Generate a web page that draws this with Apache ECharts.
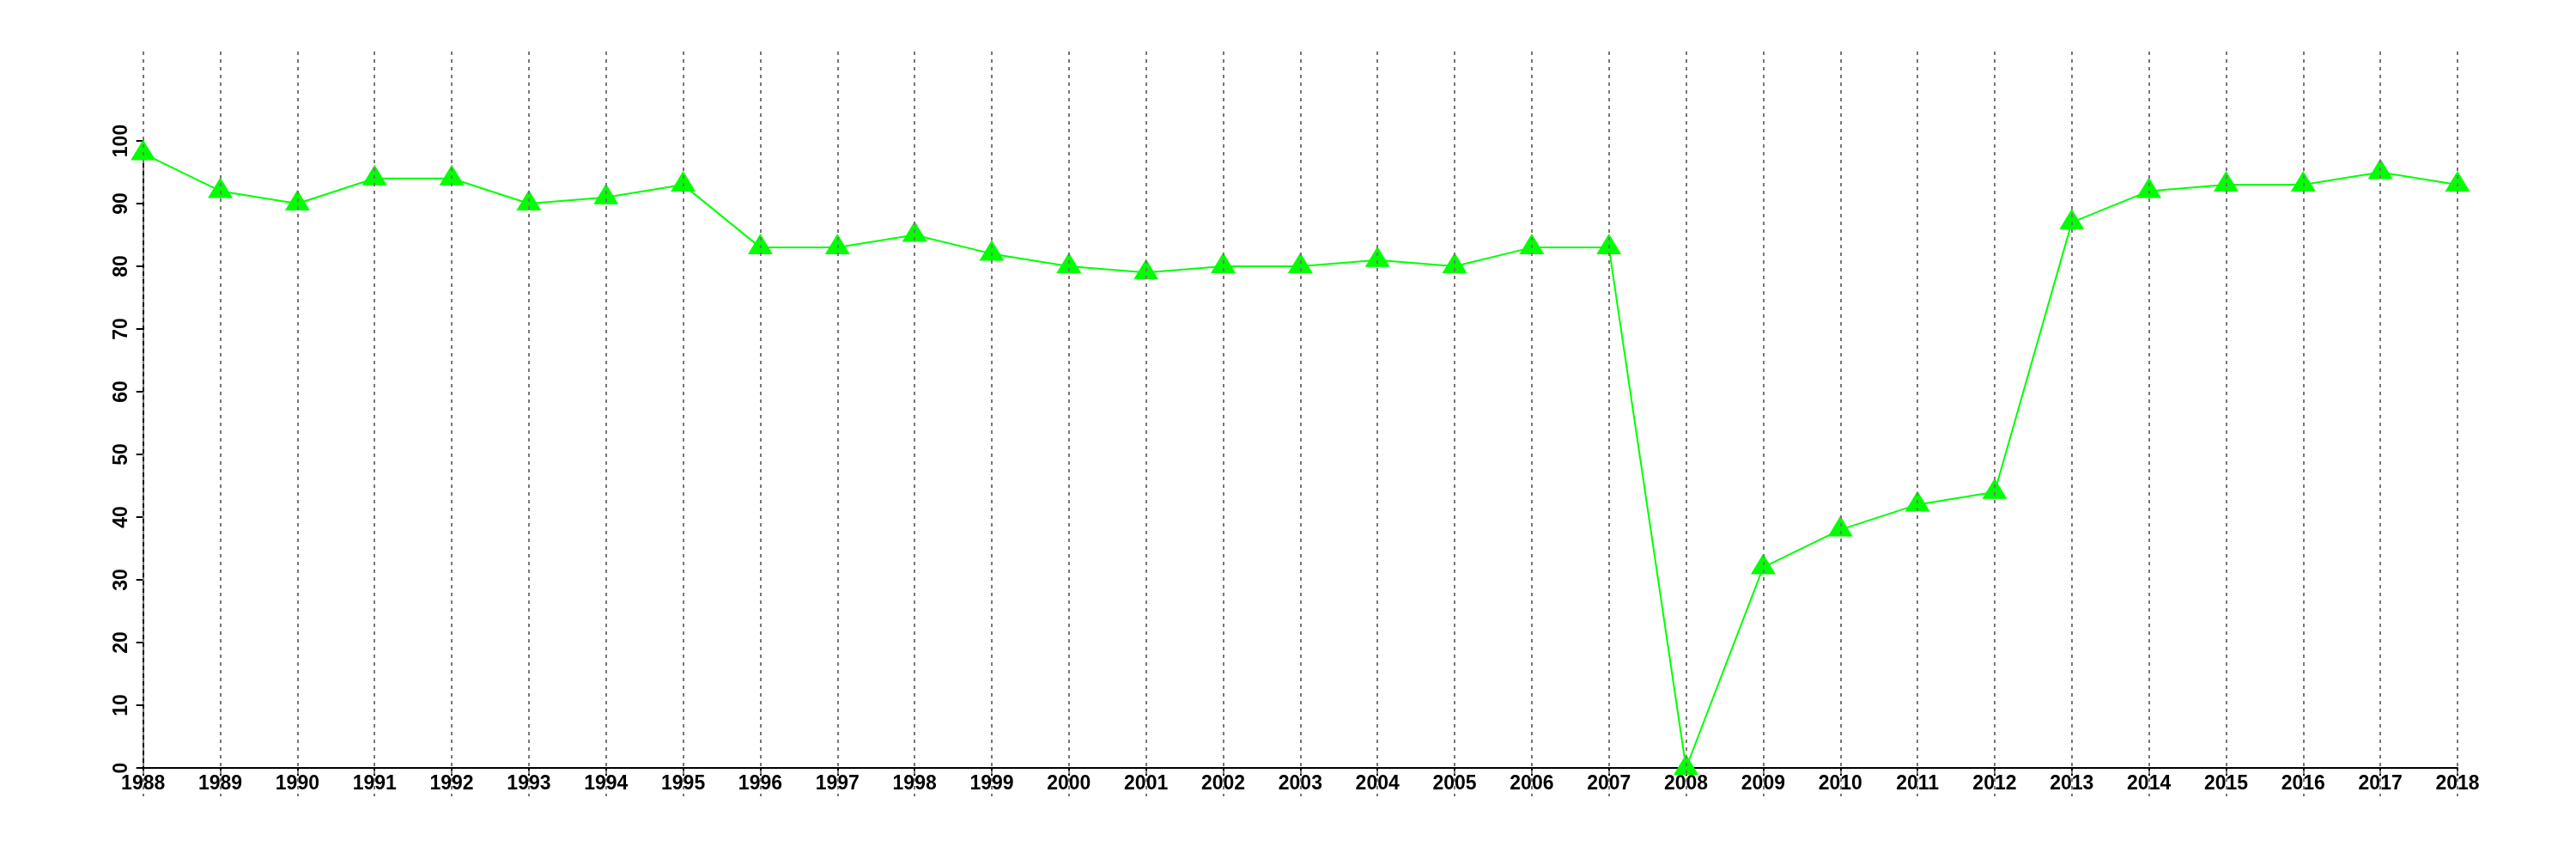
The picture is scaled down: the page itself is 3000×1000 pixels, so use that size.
<!DOCTYPE html>
<html>
<head>
<meta charset="utf-8">
<script src="https://cdn.jsdelivr.net/npm/echarts@6/dist/echarts.min.js"></script>
<style>
html,body{margin:0;padding:0;background:#fff;}
#chart{width:3000px;height:1000px;}
</style>
</head>
<body>
<div id="chart"></div>
<script>
var years = ['1988','1989','1990','1991','1992','1993','1994','1995','1996','1997','1998','1999','2000','2001','2002','2003','2004','2005','2006','2007','2008','2009','2010','2011','2012','2013','2014','2015','2016','2017','2018'];
var values = [98,92,90,94,94,90,91,93,83,83,85,82,80,79,80,80,81,80,83,83,0,32,38,42,44,87,92,93,93,95,93];
var yMin = 0, yMax = 100, yStep = 10;

var font = {fontFamily: 'Liberation Sans', fontSize: 23, fontWeight: 'bold', color: '#000'};
var chart = echarts.init(document.getElementById('chart'), null, {renderer: 'canvas'});
chart.setOption({
  animation: false,
  backgroundColor: '#fff',
  grid: [
    {left: 166.7, right: 138, top: 164, bottom: 106},
    {left: 166.7, right: 138, top: 60, bottom: 73}
  ],
  xAxis: [
    {
      type: 'category', data: years, boundaryGap: false, gridIndex: 0,
      axisLine: {lineStyle: {color: '#000', width: 2}},
      axisTick: {show: true, length: 9, alignWithLabel: true, lineStyle: {color: '#000', width: 2}},
      axisLabel: Object.assign({margin: 7, interval: 0}, font),
      splitLine: {show: false}
    },
    {
      type: 'category', data: years, boundaryGap: false, gridIndex: 1, z: 10,
      axisLine: {show: false}, axisTick: {show: false}, axisLabel: {show: false},
      splitLine: {show: true, interval: 0, lineStyle: {color: '#777', width: 2, type: [4, 5]}}
    }
  ],
  yAxis: [
    {
      type: 'value', min: yMin, max: yMax, interval: yStep, gridIndex: 0,
      axisLine: {show: true, lineStyle: {color: '#000', width: 2}},
      axisTick: {show: true, length: 8, lineStyle: {color: '#000', width: 2}},
      axisLabel: Object.assign({rotate: 90, margin: 14}, font),
      splitLine: {show: false}
    },
    {
      type: 'value', min: 0, max: 1, gridIndex: 1, show: false, splitLine: {show: false}
    }
  ],
  series: [{
    type: 'line', data: values, xAxisIndex: 0, yAxisIndex: 0,
    symbol: 'triangle', symbolSize: [29, 24], symbolOffset: [0, -4], showAllSymbol: true,
    lineStyle: {color: '#00ff00', width: 2},
    itemStyle: {color: '#00ff00'}
  }]
});
</script>
</body>
</html>
